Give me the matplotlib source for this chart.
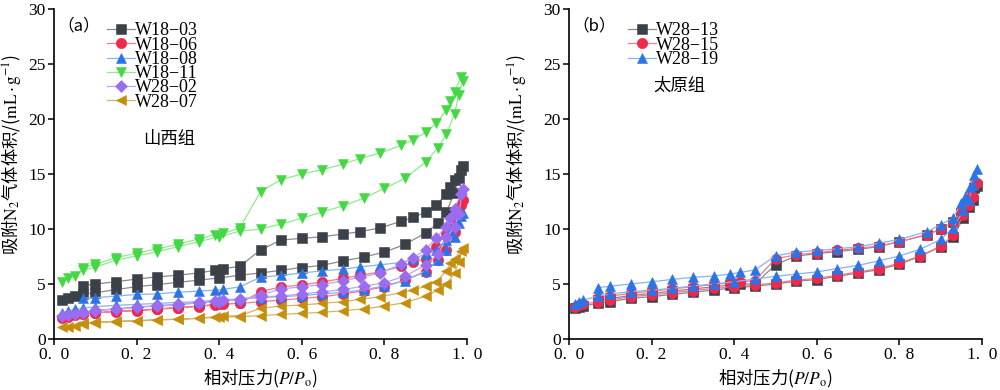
import matplotlib
matplotlib.use('Agg')
import matplotlib.pyplot as plt

plt.rcParams['font.family'] = ['Liberation Serif', 'Noto Sans CJK SC', 'DejaVu Sans']
plt.rcParams['mathtext.fontset'] = 'stix'

# ---------------- data: panel (a) Shanxi Formation ----------------
a_ads_x = [0.02, 0.035, 0.05, 0.07, 0.1, 0.15, 0.2, 0.25, 0.3, 0.35, 0.4, 0.45, 0.5,
           0.55, 0.6, 0.65, 0.7, 0.75, 0.8, 0.85, 0.9, 0.93, 0.95, 0.97, 0.98, 0.99]
a_des_x = [0.985, 0.97, 0.96, 0.95, 0.925, 0.9, 0.87, 0.84, 0.79, 0.74, 0.70, 0.65, 0.6,
           0.55, 0.5, 0.45, 0.41, 0.39, 0.35, 0.3, 0.25, 0.2, 0.15, 0.1, 0.07]

w18_03_ads = [3.55, 3.75, 3.9, 4.1, 4.2, 4.5, 4.75, 4.95, 5.15, 5.35, 5.55, 5.8, 6.0,
              6.25, 6.5, 6.7, 7.1, 7.45, 7.9, 8.6, 9.65, 10.55, 11.55, 13.3, 14.6, 15.7]
w18_03_des = [15.4, 14.5, 13.8, 13.2, 12.15, 11.55, 11.05, 10.7, 10.1, 9.75, 9.55, 9.3, 9.15,
              9.0, 8.1, 6.6, 6.4, 6.25, 6.0, 5.8, 5.65, 5.45, 5.2, 5.0, 4.85]

w18_06_ads = [1.87, 2.03, 2.18, 2.26, 2.39, 2.48, 2.57, 2.7, 2.84, 3.0, 3.18, 3.23, 3.39,
              3.54, 3.69, 3.84, 4.09, 4.39, 4.75, 5.35, 6.11, 7.16, 8.13, 9.74, 11.25, 12.6]
w18_06_des = [12.2, 11.0, 10.0, 9.6, 8.4, 7.3, 7.0, 6.6, 6.1, 5.8, 5.5, 5.2, 4.9,
              4.75, 4.3, 3.25, 3.2, 3.1, 2.95, 2.85, 2.75, 2.6, 2.55, 2.35, 2.25]

w18_08_ads = [2.4, 2.55, 2.7, 2.78, 2.94, 3.06, 3.15, 3.23, 3.33, 3.39, 3.55, 3.65, 3.75,
              3.85, 3.95, 4.1, 4.25, 4.45, 4.85, 5.3, 6.2, 7.2, 8.1, 9.3, 10.55, 11.45]
w18_08_des = [11.2, 10.3, 9.6, 9.0, 8.1, 7.75, 7.25, 6.95, 6.75, 6.55, 6.35, 6.2, 6.0,
              5.8, 5.6, 4.75, 4.5, 4.45, 4.35, 4.25, 4.1, 4.05, 3.9, 3.75, 3.7]

w18_11_ads = [5.21, 5.52, 5.73, 6.27, 6.52, 7.18, 7.55, 7.94, 8.39, 8.85, 9.3, 9.8, 10.0,
              10.45, 10.97, 11.57, 12.1, 12.8, 13.7, 14.6, 16.1, 17.4, 18.6, 20.5, 22.2, 23.5]
w18_11_des = [23.8, 22.5, 21.6, 20.8, 19.6, 18.8, 18.1, 17.6, 16.9, 16.4, 15.9, 15.4, 15.0,
              14.5, 13.4, 10.1, 9.6, 9.5, 9.1, 8.6, 8.2, 7.8, 7.4, 6.8, 6.5]

w28_02_ads = [2.09, 2.18, 2.23, 2.39, 2.57, 2.7, 2.87, 3.0, 3.09, 3.29, 3.39, 3.63, 3.84,
              3.9, 4.09, 4.29, 4.5, 4.8, 5.12, 5.72, 6.72, 7.72, 9.23, 10.2, 11.4, 13.6]
w28_02_des = [13.2, 11.8, 11.0, 10.2, 9.2, 8.1, 7.4, 6.8, 6.0, 5.6, 5.3, 4.95, 4.75,
              4.55, 4.0, 3.55, 3.5, 3.45, 3.35, 3.15, 3.05, 2.9, 2.75, 2.6, 2.45]

w28_07_ads = [1.06, 1.12, 1.18, 1.36, 1.48, 1.58, 1.64, 1.73, 1.79, 1.88, 1.97, 2.03, 2.12,
              2.24, 2.33, 2.42, 2.58, 2.73, 3.0, 3.3, 3.9, 4.45, 4.97, 5.97, 7.03, 8.3]
w28_07_des = [8.0, 7.3, 6.88, 6.2, 5.2, 4.8, 4.45, 4.2, 3.85, 3.6, 3.4, 3.24, 3.09,
              3.0, 2.79, 2.12, 2.1, 2.03, 1.88, 1.8, 1.75, 1.67, 1.6, 1.55, 1.45]

# ---------------- data: panel (b) Taiyuan Formation ----------------
b_ads_x = [0.015, 0.025, 0.035, 0.07, 0.1, 0.15, 0.2, 0.25, 0.3, 0.35, 0.4, 0.45, 0.5,
           0.55, 0.6, 0.65, 0.7, 0.75, 0.8, 0.85, 0.9, 0.93, 0.955, 0.968, 0.977, 0.988]
b_des_x = [0.98, 0.97, 0.96, 0.95, 0.93, 0.9, 0.867, 0.8, 0.75, 0.7, 0.65, 0.6, 0.55,
           0.5, 0.45, 0.415, 0.39, 0.35, 0.3, 0.25, 0.2, 0.15, 0.1, 0.07]

w28_13_ads = [2.8, 2.9, 3.0, 3.25, 3.4, 3.7, 3.85, 4.05, 4.25, 4.45, 4.65, 4.8, 5.0,
              5.25, 5.4, 5.7, 6.0, 6.3, 6.8, 7.5, 8.4, 9.3, 11.0, 12.0, 12.6, 13.9]
w28_13_des = [13.7, 12.9, 12.1, 11.5, 10.6, 10.0, 9.5, 8.85, 8.4, 8.15, 7.95, 7.75, 7.55,
              6.75, 5.0, 5.0, 4.9, 4.75, 4.55, 4.35, 4.15, 3.95, 3.7, 3.55]

w28_15_ads = [2.95, 3.05, 3.15, 3.4, 3.55, 3.85, 4.0, 4.2, 4.4, 4.6, 4.75, 4.9, 5.1,
              5.35, 5.5, 5.8, 6.1, 6.4, 6.9, 7.55, 8.45, 9.45, 11.3, 12.2, 12.9, 14.2]
w28_15_des = [14.0, 13.1, 12.3, 11.6, 10.6, 10.0, 9.45, 8.85, 8.45, 8.25, 8.05, 7.85, 7.65,
              7.3, 5.3, 5.2, 5.1, 4.95, 4.75, 4.55, 4.35, 4.15, 3.9, 3.75]

w28_19_ads = [3.2, 3.4, 3.55, 3.9, 4.1, 4.3, 4.45, 4.6, 4.82, 5.0, 5.2, 5.45, 5.7,
              5.9, 6.1, 6.4, 6.7, 7.1, 7.55, 8.15, 9.05, 10.1, 11.7, 12.6, 14.0, 15.5]
w28_19_des = [14.9, 13.8, 12.9, 12.4, 11.0, 10.4, 9.76, 9.06, 8.7, 8.4, 8.2, 8.05, 7.9,
              7.55, 6.27, 6.06, 5.9, 5.73, 5.6, 5.42, 5.2, 5.0, 4.8, 4.67]

x_ticks = [0.0, 0.2, 0.4, 0.6, 0.8, 1.0]
x_tick_labels = ['0.\u20020', '0.\u20022', '0.\u20024', '0.\u20026', '0.\u20028', '1.\u20020']
y_ticks = [0, 5, 10, 15, 20, 25, 30]
y_tick_labels = ['0', '5', '10', '15', '20', '25', '30']

series_a = [
    ('W18\u221203', w18_03_ads, w18_03_des, 's', '#3b4148', '#8a8a8a', 6.5),
    ('W18\u221206', w18_06_ads, w18_06_des, 'o', '#f0284a', '#f27b8e', 7.5),
    ('W18\u221208', w18_08_ads, w18_08_des, '^', '#2c74e6', '#86b2f2', 7.5),
    ('W18\u221211', w18_11_ads, w18_11_des, 'v', '#45d845', '#8eeb8e', 7.5),
    ('W28\u221202', w28_02_ads, w28_02_des, 'D', '#9a6cf0', '#bea2f4', 6.0),
    ('W28\u221207', w28_07_ads, w28_07_des, '<', '#c48f0c', '#d6b366', 7.5),
]
series_b = [
    ('W28\u221213', w28_13_ads, w28_13_des, 's', '#3b4148', '#8a8a8a', 6.5),
    ('W28\u221215', w28_15_ads, w28_15_des, 'o', '#f0284a', '#f27b8e', 7.5),
    ('W28\u221219', w28_19_ads, w28_19_des, '^', '#2c74e6', '#86b2f2', 7.5),
]

fig = plt.figure(figsize=(10, 3.9), dpi=100)
axA = fig.add_axes([0.054, 0.1308, 0.413, 0.846])
axB = fig.add_axes([0.569, 0.1308, 0.413, 0.846])


def draw(ax, series, ads_x, des_x):
    for name, ads, des, mk, mc, lc, ms in series:
        xs = list(ads_x) + list(des_x)
        ys = list(ads) + list(des)
        ax.plot(xs, ys, color=lc, lw=0.9, marker=mk, ms=ms, mfc=mc, mec=mc,
                mew=0.4, label=name, clip_on=False)


def style(ax, ylab_x):
    ax.set_xlim(0, 1.0)
    ax.set_ylim(0, 30)
    ax.spines['top'].set_visible(False)
    ax.spines['right'].set_visible(False)
    for s in ('left', 'bottom'):
        ax.spines[s].set_linewidth(1.2)
    ax.set_xticks(x_ticks)
    ax.set_xticklabels(x_tick_labels)
    ax.set_yticks(y_ticks)
    ax.set_yticklabels(y_tick_labels)
    ax.tick_params(direction='out', length=4, width=1.1, labelsize=12.5, pad=2)
    ax.set_xlabel('相对压力($P/P_{\\mathrm{o}}$)', family='Noto Sans CJK SC',
                  fontsize=12.5, labelpad=3)
    ax.set_ylabel('吸附$\\mathrm{N_2}$气体体积/($\\mathrm{mL\\cdot g^{-1}}$)',
                  family='Noto Sans CJK SC', fontsize=12.5)
    ax.yaxis.set_label_coords(ylab_x, 0.56)


draw(axA, series_a, a_ads_x, a_des_x)
draw(axB, series_b, b_ads_x, b_des_x)
style(axA, -0.076)
style(axB, -0.099)

legA = axA.legend(loc='upper left', bbox_to_anchor=(0.128, 0.96), frameon=False,
                  fontsize=13, handlelength=1.55, handletextpad=0.0,
                  labelspacing=-0.15, borderpad=0, borderaxespad=0)
legB = axB.legend(loc='upper left', bbox_to_anchor=(0.143, 0.96), frameon=False,
                  fontsize=13, handlelength=1.55, handletextpad=0.0,
                  labelspacing=-0.15, borderpad=0, borderaxespad=0)

axA.text(0.008, 0.975, '（a）', transform=axA.transAxes, fontsize=12,
         family=['Noto Sans CJK SC'], ha='left', va='top')
axB.text(0.008, 0.975, '（b）', transform=axB.transAxes, fontsize=12,
         family=['Noto Sans CJK SC'], ha='left', va='top')
axA.text(0.278, 0.605, '山西组', transform=axA.transAxes, fontsize=12.5,
         family='Noto Sans CJK SC', ha='center', va='center')
axB.text(0.268, 0.768, '太原组', transform=axB.transAxes, fontsize=12.5,
         family='Noto Sans CJK SC', ha='center', va='center')

fig.savefig('out.png', dpi=100)
